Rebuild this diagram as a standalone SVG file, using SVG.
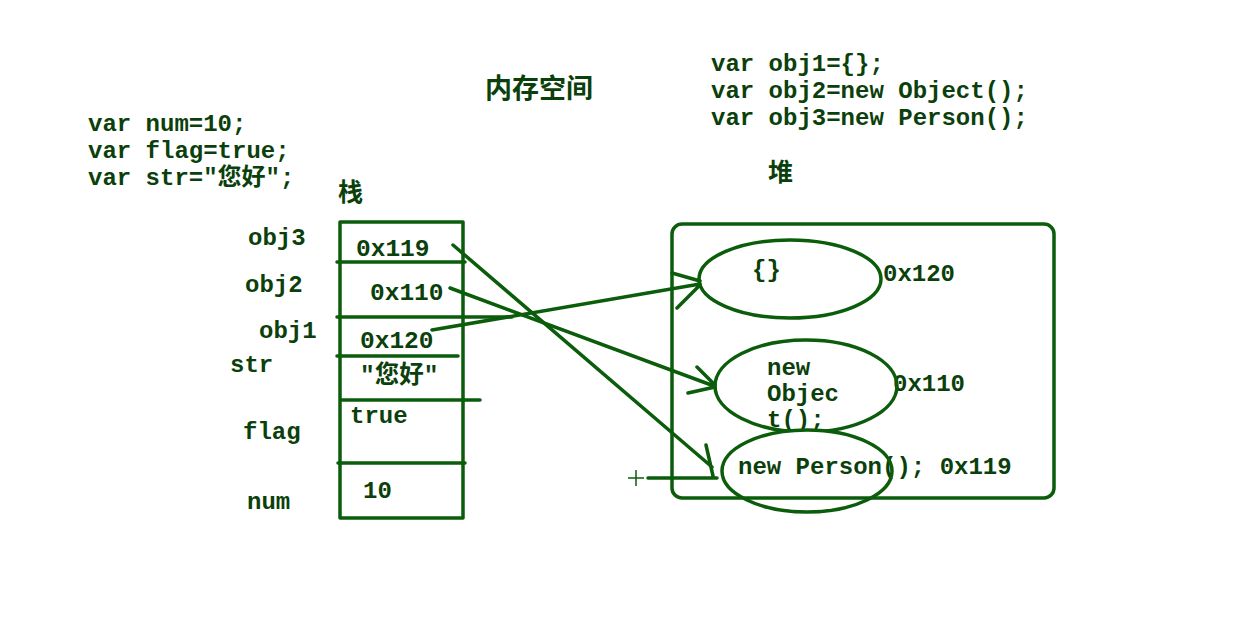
<svg xmlns="http://www.w3.org/2000/svg" width="1252" height="626" viewBox="0 0 1252 626">
<style>
.t{font-family:"Liberation Mono","Noto Sans CJK SC",monospace;font-weight:bold;font-size:24px;fill:#0b3f0b}
.cjk{font-family:"Noto Sans CJK SC",sans-serif;font-weight:bold;fill:#0b3f0b}
.ln{fill:none;stroke:#0b5c0b;stroke-width:3.5;stroke-linecap:round;stroke-linejoin:round}
.thin{fill:none;stroke:#0b5c0b;stroke-width:1.5}
</style>
<rect width="1252" height="626" fill="#ffffff"/>
<g id="titles">
<text class="cjk" x="485" y="98" font-size="27">内存空间</text>
<text class="cjk" x="338" y="201" font-size="25">栈</text>
<text class="cjk" x="768" y="181" font-size="25">堆</text>
</g>
<g id="code-left" class="t">
<text x="88" y="131">var num=10;</text>
<text x="88" y="158">var flag=true;</text>
<text x="88" y="185">var str="您好";</text>
</g>
<g id="code-right" class="t">
<text x="711" y="71">var obj1={};</text>
<text x="711" y="98">var obj2=new Object();</text>
<text x="711" y="125">var obj3=new Person();</text>
</g>
<g id="stack">
<rect class="ln" x="340" y="222" width="123" height="296"/>
<path class="ln" d="M337,262 L465,262 M337,317 L512,317 M337,356 L458,356 M342,400 L480,400 M338,463 L465,463"/>
<g class="t">
<text x="248" y="245">obj3</text>
<text x="245" y="292">obj2</text>
<text x="259" y="338">obj1</text>
<text x="230" y="372">str</text>
<text x="243" y="439">flag</text>
<text x="247" y="509">num</text>
<text x="356" y="256" font-size="24.5">0x119</text>
<text x="370" y="300" font-size="24.5">0x110</text>
<text x="360" y="348" font-size="24.5">0x120</text>
<text x="360" y="383" font-size="24.5">"您好"</text>
<text x="350" y="423">true</text>
<text x="363" y="498">10</text>
</g>
</g>
<g id="heap">
<g id="obj-empty">
<text class="t" x="752" y="277" font-size="21">{}</text>
<text class="t" x="883" y="281">0x120</text>
<ellipse class="ln" cx="790" cy="279" rx="91" ry="39"/>
</g>
<g id="obj-object">
<text class="t" x="767" y="375">new</text>
<text class="t" x="767" y="401">Objec</text>
<text class="t" x="767" y="427">t();</text>
<text class="t" x="893" y="391">0x110</text>
<ellipse class="ln" cx="806" cy="386" rx="91" ry="46"/>
</g>
<g id="obj-person">
<ellipse cx="807" cy="471" rx="85" ry="41" fill="#ffffff" stroke="none"/>
<text class="t" x="738" y="474">new Person(); 0x119</text>
<ellipse class="ln" cx="807" cy="471" rx="85" ry="41"/>
</g>
<rect class="ln" x="672" y="224" width="382" height="274" rx="10"/>
</g>
<g id="connectors">
<path class="ln" d="M453,245 L712,467 M706,445 L713,476 M648,478 L717,478"/>
<path class="thin" d="M628,478 L644,478 M636,470 L636,486"/>
<path class="ln" d="M450,288 L714,386 M697,367 L715,385 M688,393 L715,387"/>
<path class="ln" d="M432,330 L700,284 M672,273 L700,281 M677,308 L700,285"/>
</g>
</svg>
